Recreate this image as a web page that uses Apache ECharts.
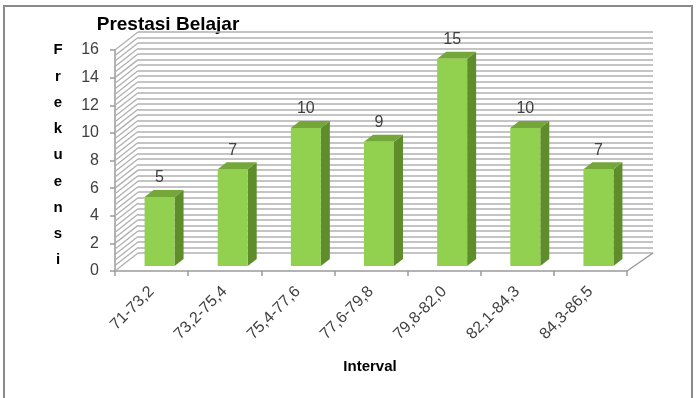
<!DOCTYPE html>
<html><head><meta charset="utf-8">
<script src="https://cdn.jsdelivr.net/npm/echarts@6/dist/echarts.min.js"></script>
<style>html,body{margin:0;padding:0;background:#fff}#c{width:697px;height:398px}</style>
</head><body><div id="c"></div>
<script>
const categories = ['71-73,2','73,2-75,4','75,4-77,6','77,6-79,8','79,8-82,0','82,1-84,3','84,3-86,5'];
const frequencies = [5, 7, 10, 9, 15, 10, 7];
const yMin = 0, yMax = 16, yInterval = 2;
const chartTitle = 'Prestasi Belajar';
const xTitle = 'Interval';
const yTitle = 'Frekuensi';

const FONT = '"Liberation Sans", Arial, sans-serif';
const FRONT = {left:115, top:50, width:512, height:221};
const DX = 23, DY = -18;                 // depth of the 3D box
const BACK = {left:FRONT.left+DX, top:FRONT.top+DY, width:FRONT.width+3, height:FRONT.height};
const BAR_DX = 8, BAR_DY = -5;           // bar plane inside the box
const BAR_W = 30, BAR_D = 9, BAR_H = 7;  // face width and side depth
const GRID_COLOR = '#b0b0b0';

const chart = echarts.init(document.getElementById('c'), null, {renderer:'canvas'});

const option = {
  animation:false,
  backgroundColor:'#fff',
  textStyle:{fontFamily:FONT},
  grid:[
    Object.assign({containLabel:false}, FRONT),
    Object.assign({containLabel:false}, BACK)
  ],
  xAxis:[
    {type:'category', gridIndex:0, data:categories, boundaryGap:true,
     axisLine:{show:true, lineStyle:{color:'#9a9a9a', width:1.5}},
     axisTick:{show:true, interval:0, length:5, lineStyle:{color:'#9a9a9a', width:1.5}},
     axisLabel:{interval:0, rotate:45, margin:18, fontSize:16, color:'#404040', fontFamily:FONT},
     splitLine:{show:false}},
    {type:'category', gridIndex:1, data:categories, show:false}
  ],
  yAxis:[
    {type:'value', gridIndex:0, min:yMin, max:yMax, interval:yInterval,
     axisLine:{show:true, lineStyle:{color:'#9a9a9a', width:1.5}},
     axisTick:{show:true, length:5, lineStyle:{color:'#9a9a9a', width:1.5}},
     axisLabel:{margin:16, fontSize:16, color:'#404040', fontFamily:FONT},
     splitLine:{show:false}},
    {type:'value', gridIndex:1, min:yMin, max:yMax, interval:yInterval,
     axisLine:{show:false}, axisTick:{show:false}, axisLabel:{show:false},
     splitLine:{show:true, lineStyle:{color:GRID_COLOR, width:1.6}},
     minorTick:{show:false, splitNumber:5},
     minorSplitLine:{show:true, lineStyle:{color:GRID_COLOR, width:1.6}}}
  ],
  graphic:[
    {type:'rect', shape:{x:4, y:6, width:688, height:400}, style:{fill:'none', stroke:'#8a8a8a', lineWidth:2}, z:-10},
    {type:'text', x:168, y:25, style:{text:chartTitle, font:'bold 19px '+FONT, fill:'#000', align:'center', verticalAlign:'middle'}},
    {type:'text', x:370, y:367, style:{text:xTitle, font:'bold 15px '+FONT, fill:'#000', align:'center', verticalAlign:'middle'}},
    {type:'text', x:58, y:37, style:{text:yTitle.split('').join('\n'), font:'bold 15px '+FONT, fill:'#000', align:'center', verticalAlign:'top', lineHeight:26.25}}
  ],
  series:[
    {
      type:'custom', xAxisIndex:0, yAxisIndex:0, clip:false, silent:true, z:1,
      data:[[0, 0]],
      renderItem:function(params, api){
        const cs = params.coordSys;
        const children = [];
        const step = yInterval / 5;
        const n = Math.round((yMax - yMin) / step);
        for (let i = 0; i <= n; i++) {
          const y = api.coord([0, yMin + i*step])[1];
          children.push({type:'line', shape:{x1:cs.x, y1:y, x2:cs.x+DX, y2:y+DY},
            style:{stroke:GRID_COLOR, lineWidth:1.3}});
        }
        const yb = cs.y + cs.height;
        children.push({type:'line', shape:{x1:cs.x+cs.width, y1:yb, x2:BACK.left+BACK.width, y2:yb+DY},
          style:{stroke:'#9a9a9a', lineWidth:1.5}});
        return {type:'group', children:children};
      }
    },
    {
      type:'custom', xAxisIndex:0, yAxisIndex:0, clip:false, silent:true, z:3,
      data:frequencies.map(function(v, i){ return [i, v]; }),
      renderItem:function(params, api){
        const c = api.value(0), v = api.value(1);
        const base = api.coord([c, 0]);
        const top = api.coord([c, v]);
        const cx = base[0] + BAR_DX;
        const yb = base[1] + BAR_DY, yt = top[1] + BAR_DY;
        const xl = cx - BAR_W/2, xr = cx + BAR_W/2;
        return {type:'group', children:[
          {type:'polygon', shape:{points:[[xr,yt],[xr+BAR_D,yt-BAR_H],[xr+BAR_D,yb-BAR_H],[xr,yb]]}, style:{fill:'#5f8d2c'}},
          {type:'polygon', shape:{points:[[xl,yt],[xl+BAR_D,yt-BAR_H],[xr+BAR_D,yt-BAR_H],[xr,yt]]}, style:{fill:'#74a63a'}},
          {type:'rect', shape:{x:xl, y:yt, width:BAR_W, height:yb-yt}, style:{fill:'#92d050'}},
          {type:'text', style:{text:String(v), x:cx, y:yt-19, align:'center', verticalAlign:'middle', fill:'#404040', font:'16px '+FONT}}
        ]};
      }
    }
  ]
};
chart.setOption(option);
</script></body></html>
